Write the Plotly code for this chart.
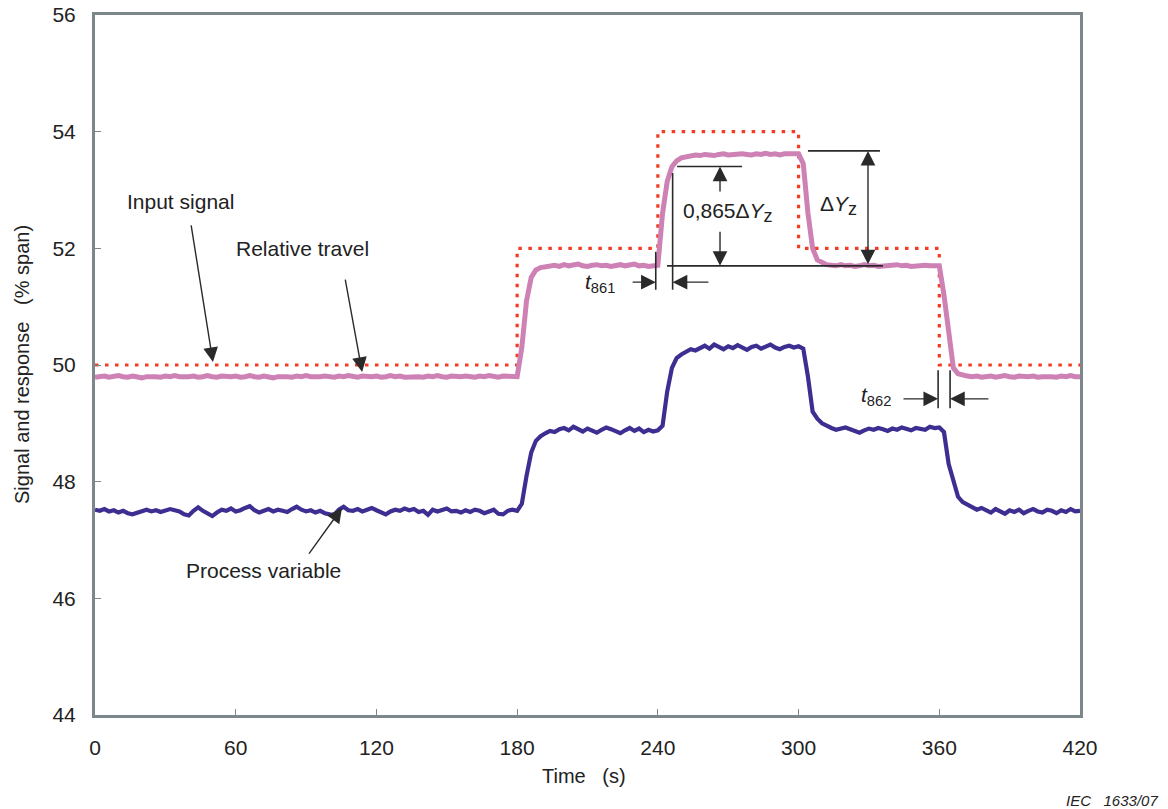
import plotly.graph_objects as go

# Sampling grid of the recorded traces (s)
time_s = list(range(0, 421, 2))

# Step input signal (% span), held from each breakpoint to the next
input_t = [0, 180, 240, 300, 360, 420]
input_signal = [50, 52, 54, 52, 50, 50]

# Relative travel (% span), one row per 20 s
relative_travel = [
    49.79, 49.80, 49.81, 49.79, 49.80, 49.82, 49.80, 49.79, 49.81, 49.80,  # 0
    49.78, 49.80, 49.81, 49.80, 49.79, 49.81, 49.80, 49.82, 49.80, 49.79,  # 20
    49.80, 49.81, 49.79, 49.80, 49.82, 49.80, 49.79, 49.81, 49.80, 49.80,  # 40
    49.81, 49.79, 49.80, 49.82, 49.80, 49.79, 49.81, 49.80, 49.78, 49.80,  # 60
    49.81, 49.80, 49.79, 49.81, 49.80, 49.82, 49.80, 49.79, 49.80, 49.81,  # 80
    49.80, 49.79, 49.81, 49.80, 49.82, 49.80, 49.79, 49.81, 49.80, 49.80,  # 100
    49.81, 49.79, 49.80, 49.82, 49.80, 49.81, 49.79, 49.80, 49.81, 49.80,  # 120
    49.79, 49.81, 49.80, 49.82, 49.80, 49.79, 49.81, 49.80, 49.80, 49.81,  # 140
    49.80, 49.79, 49.81, 49.80, 49.82, 49.80, 49.79, 49.81, 49.80, 49.80,  # 160
    49.80, 50.30, 51.10, 51.50, 51.63, 51.67, 51.69, 51.70, 51.71, 51.69,  # 180
    51.72, 51.70, 51.71, 51.73, 51.70, 51.69, 51.71, 51.72, 51.70, 51.71,  # 200
    51.69, 51.71, 51.72, 51.70, 51.71, 51.73, 51.70, 51.71, 51.69, 51.71,  # 220
    51.71, 52.60, 53.15, 53.40, 53.50, 53.55, 53.57, 53.58, 53.60, 53.59,  # 240
    53.61, 53.60, 53.59, 53.61, 53.62, 53.60, 53.61, 53.60, 53.62, 53.61,  # 260
    53.60, 53.62, 53.61, 53.63, 53.61, 53.62, 53.60, 53.62, 53.63, 53.62,  # 280
    53.62, 53.45, 52.60, 52.00, 51.80, 51.75, 51.72, 51.71, 51.70, 51.72,  # 300
    51.70, 51.71, 51.69, 51.70, 51.72, 51.70, 51.71, 51.69, 51.70, 51.71,  # 320
    51.70, 51.72, 51.70, 51.71, 51.69, 51.70, 51.72, 51.71, 51.70, 51.71,  # 340
    51.70, 51.20, 50.55, 49.95, 49.85, 49.82, 49.81, 49.80, 49.81, 49.79,  # 360
    49.80, 49.81, 49.79, 49.80, 49.82, 49.80, 49.79, 49.81, 49.80, 49.80,  # 380
    49.81, 49.79, 49.80, 49.81, 49.80, 49.79, 49.81, 49.80, 49.82, 49.80,  # 400
    49.80,                                                                  # 420
]

# Process variable (% span), one row per 20 s
process_variable = [
    47.52, 47.50, 47.53, 47.49, 47.51, 47.47, 47.50, 47.46, 47.44, 47.47,  # 0
    47.50, 47.52, 47.49, 47.51, 47.48, 47.50, 47.53, 47.51, 47.49, 47.44,  # 20
    47.42, 47.50, 47.56, 47.50, 47.45, 47.41, 47.47, 47.52, 47.50, 47.54,  # 40
    47.49, 47.51, 47.55, 47.58, 47.51, 47.47, 47.50, 47.53, 47.49, 47.52,  # 60
    47.50, 47.48, 47.53, 47.57, 47.52, 47.49, 47.51, 47.47, 47.50, 47.46,  # 80
    47.44, 47.43, 47.52, 47.57, 47.51, 47.50, 47.53, 47.49, 47.52, 47.55,  # 100
    47.51, 47.47, 47.44, 47.49, 47.52, 47.50, 47.54, 47.51, 47.53, 47.48,  # 120
    47.50, 47.43, 47.52, 47.49, 47.51, 47.54, 47.49, 47.50, 47.47, 47.51,  # 140
    47.48, 47.52, 47.50, 47.46, 47.49, 47.52, 47.45, 47.44, 47.50, 47.52,  # 160
    47.50, 47.62, 48.10, 48.50, 48.70, 48.78, 48.83, 48.87, 48.85, 48.90,  # 180
    48.92, 48.88, 48.94, 48.90, 48.86, 48.91, 48.88, 48.84, 48.89, 48.93,  # 200
    48.90, 48.86, 48.83, 48.88, 48.92, 48.87, 48.91, 48.85, 48.89, 48.86,  # 220
    48.88, 48.96, 49.55, 49.95, 50.12, 50.18, 50.22, 50.27, 50.25, 50.30,  # 240
    50.33, 50.28, 50.35, 50.31, 50.27, 50.32, 50.29, 50.34, 50.30, 50.26,  # 260
    50.31, 50.33, 50.28, 50.32, 50.35, 50.30, 50.27, 50.31, 50.33, 50.30,  # 280
    50.32, 50.28, 49.80, 49.20, 49.08, 49.00, 48.95, 48.92, 48.89, 48.91,  # 300
    48.93, 48.90, 48.86, 48.84, 48.88, 48.91, 48.89, 48.92, 48.90, 48.87,  # 320
    48.91, 48.89, 48.93, 48.90, 48.88, 48.92, 48.91, 48.89, 48.94, 48.92,  # 340
    48.93, 48.85, 48.30, 48.03, 47.74, 47.65, 47.60, 47.56, 47.52, 47.55,  # 360
    47.50, 47.47, 47.53, 47.49, 47.45, 47.51, 47.48, 47.52, 47.46, 47.50,  # 380
    47.53, 47.49, 47.47, 47.52, 47.50, 47.46, 47.51, 47.48, 47.53, 47.49,  # 400
    47.50,                                                                  # 420
]

x_ticks = [0, 60, 120, 180, 240, 300, 360, 420]
y_ticks = [44, 46, 48, 50, 52, 54, 56]

# Step-response measurement levels
travel_low = 51.70
travel_high = 53.67
travel_865 = travel_low + 0.865 * (travel_high - travel_low)

# Instants bounding t861 and t862
t861_start, t861_end = 239.1, 246.3
t862_start, t862_end = 359.5, 364.6

FONT = "Arial, Liberation Sans, sans-serif"
INK = "#222222"
FRAME = "#7b878b"

fig = go.Figure()

fig.add_trace(go.Scatter(
    x=input_t, y=input_signal, mode="lines", line_shape="hv",
    line=dict(color="#f23c24", width=3.2, dash="3.5px,6.5px"),
    name="Input signal",
))
fig.add_trace(go.Scatter(
    x=time_s, y=relative_travel, mode="lines",
    line=dict(color="#cd81b5", width=5),
    name="Relative travel",
))
fig.add_trace(go.Scatter(
    x=time_s, y=process_variable, mode="lines",
    line=dict(color="#3d2f92", width=4.2),
    name="Process variable",
))


def seg(x0, y0, x1, y1):
    return dict(type="line", xref="x", yref="y", x0=x0, y0=y0, x1=x1, y1=y1,
                line=dict(color="#2a2a2a", width=1.6))


shapes = [
    seg(243.9, travel_low, 336.0, travel_low),
    seg(248.2, travel_865, 275.9, travel_865),
    seg(304.0, travel_high, 334.7, travel_high),
    seg(t861_start, 51.94, t861_start, 51.29),
    seg(t861_end, 53.29, t861_end, 51.29),
    seg(t862_start, 49.91, t862_start, 49.26),
    seg(t862_end, 49.91, t862_end, 49.26),
]

annotations = []


def arrow(x_tail, y_tail, x_head, y_head, both=False):
    annotations.append(dict(
        x=x_head, y=y_head, ax=x_tail, ay=y_tail, xref="x", yref="y",
        axref="x", ayref="y", text="", showarrow=True,
        arrowhead=2, arrowsize=2.1, arrowwidth=1.4, arrowcolor="#2a2a2a",
        arrowside="end+start" if both else "end", standoff=0, startstandoff=0,
    ))


def label(x, y, text, size=21, xanchor="left"):
    annotations.append(dict(
        x=x, y=y, xref="x", yref="y", text=text, showarrow=False,
        xanchor=xanchor, yanchor="middle", font=dict(family=FONT, size=size, color=INK),
    ))


# Trace labels with pointers
label(12.8, 52.81, "Input signal")
arrow(40.9, 52.42, 50.3, 50.05)
label(59.3, 51.99, "Relative travel")
arrow(106.6, 51.49, 113.9, 49.88)
label(37.9, 46.47, "Process variable")
arrow(90.8, 46.74, 105.3, 47.55)

# 0,865 dY_z dimension
label(269.9, 52.61, "0,865Δ<i>Y</i><sub><span style='font-size:18px'>z</span></sub>",
      size=21, xanchor="center")
arrow(266.5, 52.95, 266.5, travel_865)
arrow(266.5, 52.31, 266.5, travel_low)

# dY_z dimension
label(317.0, 52.74, "Δ<i>Y</i><sub><span style='font-size:18px'>z</span></sub>",
      size=21, xanchor="center")
arrow(329.6, travel_low, 329.6, travel_high, both=True)

# t861 and t862 intervals
label(215.5, 51.41, "<i>t</i><sub>861</sub>", size=21, xanchor="center")
arrow(228.6, 51.42, t861_start, 51.42)
arrow(262.2, 51.42, t861_end, 51.42)
label(332.8, 49.47, "<i>t</i><sub>862</sub>", size=21, xanchor="center")
arrow(344.1, 49.42, t862_start, 49.42)
arrow(381.6, 49.42, t862_end, 49.42)

# Axis titles and figure reference
annotations.append(dict(
    x=0, y=0.5, xref="paper", yref="paper", xshift=-73, textangle=-90,
    text="Signal and response\u00a0\u00a0\u00a0(% span)", showarrow=False,
    xanchor="center", yanchor="middle", font=dict(family=FONT, size=20, color=INK),
))
annotations.append(dict(
    x=0.5, y=0, xref="paper", yref="paper", xshift=-4, yshift=-61,
    text="Time\u00a0\u00a0\u00a0(s)", showarrow=False,
    xanchor="center", yanchor="middle", font=dict(family=FONT, size=20, color=INK),
))
annotations.append(dict(
    x=1, y=0, xref="paper", yref="paper", xshift=80, yshift=-85,
    text="<i>IEC\u00a0\u00a0\u00a01633/07</i>", showarrow=False,
    xanchor="right", yanchor="middle", font=dict(family=FONT, size=15, color=INK),
))

fig.update_layout(
    width=1168, height=809,
    margin=dict(l=95, r=88, t=15, b=94, autoexpand=False),
    paper_bgcolor="white", plot_bgcolor="white",
    showlegend=False,
    shapes=shapes, annotations=annotations,
    font=dict(family=FONT, size=21, color=INK),
)
fig.update_xaxes(
    range=[0, 420], tickvals=x_ticks, ticktext=[str(v) for v in x_ticks],
    showgrid=False, zeroline=False, automargin=False,
    showline=True, linecolor=FRAME, linewidth=3, mirror=True,
    ticks="inside", ticklen=6, tickwidth=1, tickcolor=FRAME,
    ticklabelstandoff=12, tickfont=dict(family=FONT, size=21, color=INK),
)
fig.update_yaxes(
    range=[44, 56], tickvals=y_ticks, ticktext=[str(v) for v in y_ticks],
    showgrid=False, zeroline=False, automargin=False,
    showline=True, linecolor=FRAME, linewidth=3, mirror=True,
    ticks="inside", ticklen=6, tickwidth=1, tickcolor=FRAME,
    ticklabelstandoff=12, tickfont=dict(family=FONT, size=21, color=INK),
)

fig.write_html("out.html")
